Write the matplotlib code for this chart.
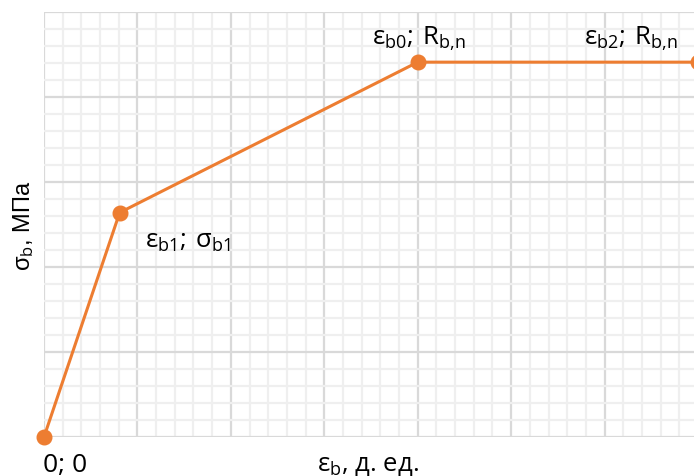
import matplotlib
matplotlib.use("Agg")
import matplotlib.pyplot as plt
from matplotlib.ticker import MultipleLocator

# Data (in grid units)
eps = [0.0, 0.81, 4.0, 7.0]
sig = [0.0, 2.64, 4.41, 4.41]
point_labels = ["0; 0",
                r"$\mathrm{ε_{b1};\:σ_{b1}}$",
                r"$\mathrm{ε_{b0};\:R_{b{,}n}}$",
                r"$\mathrm{ε_{b2};\:R_{b{,}n}}$"]
x_label = r"$\mathrm{ε_{b}}$, д. ед."
y_label = "σ$_\\mathrm{b}$, МПа"

plt.rcParams['mathtext.fontset'] = 'custom'
plt.rcParams['mathtext.rm'] = 'Open Sans'
plt.rcParams['mathtext.it'] = 'Open Sans:italic'
plt.rcParams['mathtext.bf'] = 'Open Sans:bold'

W, H = 694, 476
fig = plt.figure(figsize=(W / 100, H / 100), dpi=100)
L, R, T, B = 44, 698, 12, 437
ax = fig.add_axes([L / W, 1 - B / H, (R - L) / W, (B - T) / H])
ax.set_xlim(0, 7)
ax.set_ylim(0, 5)
ax.xaxis.set_major_locator(MultipleLocator(1))
ax.xaxis.set_minor_locator(MultipleLocator(0.2))
ax.yaxis.set_major_locator(MultipleLocator(1))
ax.yaxis.set_minor_locator(MultipleLocator(0.2))
ax.grid(which='minor', color='#efefef', linewidth=1.6)
ax.grid(which='major', color='#d9d9d9', linewidth=1.6)
ax.set_axisbelow(True)
for s in ax.spines.values():
    s.set_visible(False)
ax.tick_params(which='both', length=0, labelbottom=False, labelleft=False)

ax.plot(eps, sig, color='#ED7D31', linewidth=2.2, marker='o', markersize=10.5,
        clip_on=False, zorder=5)

fs = 18.5
fam = 'Open Sans'
ax.annotate(point_labels[0], (eps[0], sig[0]), xytext=(-1, -35), textcoords='offset pixels',
            ha='left', va='baseline', fontsize=19, family=fam, annotation_clip=False)
ax.annotate(point_labels[1], (eps[1], sig[1]), xytext=(25, -35), textcoords='offset pixels',
            ha='left', va='baseline', fontsize=fs, family=fam, annotation_clip=False)
ax.annotate(point_labels[2], (eps[2], sig[2]), xytext=(1, 17), textcoords='offset pixels',
            ha='center', va='baseline', fontsize=fs, family=fam, annotation_clip=False)
ax.annotate(point_labels[3], (eps[3], sig[3]), xytext=(-20, 17), textcoords='offset pixels',
            ha='right', va='baseline', fontsize=fs, family=fam, annotation_clip=False)

fig.text(368 / W, 1 - 471 / H, x_label, ha='center', va='baseline', fontsize=fs, family=fam)
fig.text(24 / W, 1 - 226 / H, y_label, ha='center', va='center', rotation=90,
         fontsize=17, family='Liberation Sans')

fig.savefig("out.png", dpi=100)
